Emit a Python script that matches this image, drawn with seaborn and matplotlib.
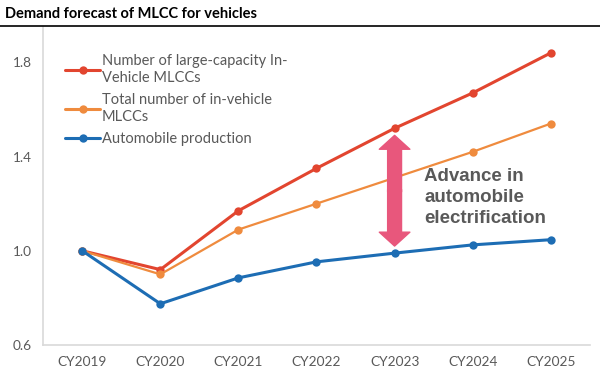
import pandas as pd
import matplotlib.pyplot as plt
import seaborn as sns

# Chart data (index, CY2019 = 1.0)
years = ['CY2019', 'CY2020', 'CY2021', 'CY2022', 'CY2023', 'CY2024', 'CY2025']
large_cap = [1.00, 0.92, 1.17, 1.35, 1.52, 1.67, 1.84]
total_mlcc = [1.00, 0.90, 1.09, 1.20, 1.31, 1.42, 1.54]
auto_prod = [1.00, 0.775, 0.885, 0.953, 0.99, 1.025, 1.047]
series_names = ['Number of large-capacity In-\nVehicle MLCCs',
                'Total number of in-vehicle\nMLCCs',
                'Automobile production']
colors = ['#e2452f', '#ef8b3e', '#1d6db4']
yticks = [0.6, 1.0, 1.4, 1.8]

df = pd.DataFrame({
    'year': years * 3,
    'value': large_cap + total_mlcc + auto_prod,
    'series': [series_names[0]] * 7 + [series_names[1]] * 7 + [series_names[2]] * 7,
})

sns.set_style('white')
plt.rcParams['font.family'] = ['Lato', 'DejaVu Sans']

fig = plt.figure(figsize=(6, 3.75), dpi=100)
ax = fig.add_axes([0.072, 0.08, 0.911, 0.848])

sns.lineplot(data=df, x='year', y='value', hue='series', hue_order=series_names,
             palette=colors, marker='o', markersize=6, markeredgewidth=0,
             linewidth=2.2, sort=False, ax=ax)
# orange line is thinner in the original
ax.lines[1].set_linewidth(1.6)

ax.set_xlim(-0.5, 6.5)
ax.set_ylim(0.6, 1.95)
ax.set_yticks(yticks)
ax.set_yticklabels([f'{t:.1f}' for t in yticks])
ax.set_xlabel('')
ax.set_ylabel('')
ax.tick_params(axis='both', length=0, labelsize=9.8, labelcolor='#595959', pad=8)
for side in ['top', 'right']:
    ax.spines[side].set_visible(False)
for side in ['left', 'bottom']:
    ax.spines[side].set_color('#d9d9d9')
    ax.spines[side].set_linewidth(1.2)

handles, labels = ax.get_legend_handles_labels()
ax.legend(handles, labels, loc='upper left', bbox_to_anchor=(0.03, 0.935), frameon=False,
          fontsize=10.5, labelcolor='#595959', handlelength=2.4, handletextpad=0.1,
          labelspacing=0.55, borderaxespad=0)
for t in ax.get_legend().get_texts():
    t.set_linespacing(1.3)

# double headed arrow
pink = '#e8577c'
arrow_kw = dict(arrowstyle='simple,head_width=2.2,head_length=1.0,tail_width=1.0',
                color=pink, mutation_scale=10, shrinkA=0, shrinkB=0)
ax.annotate('', xy=(4, 1.49), xytext=(4, 1.25), arrowprops=arrow_kw)
ax.annotate('', xy=(4, 1.02), xytext=(4, 1.26), arrowprops=arrow_kw)

ax.text(4.38, 1.225, 'Advance in\nautomobile\nelectrification', fontsize=13.5,
        fontweight='bold', color='#595959', family='Liberation Sans',
        va='center', ha='left', linespacing=1.3)

# title with rule beneath
fig.text(0.008, 0.963, 'Demand forecast of MLCC for vehicles', fontsize=10.5,
         fontweight='bold', color='black', va='center', ha='left')
fig.add_artist(plt.Line2D([0, 1], [0.931, 0.931], color='black', linewidth=1.2))

plt.savefig('out.png', dpi=100)
